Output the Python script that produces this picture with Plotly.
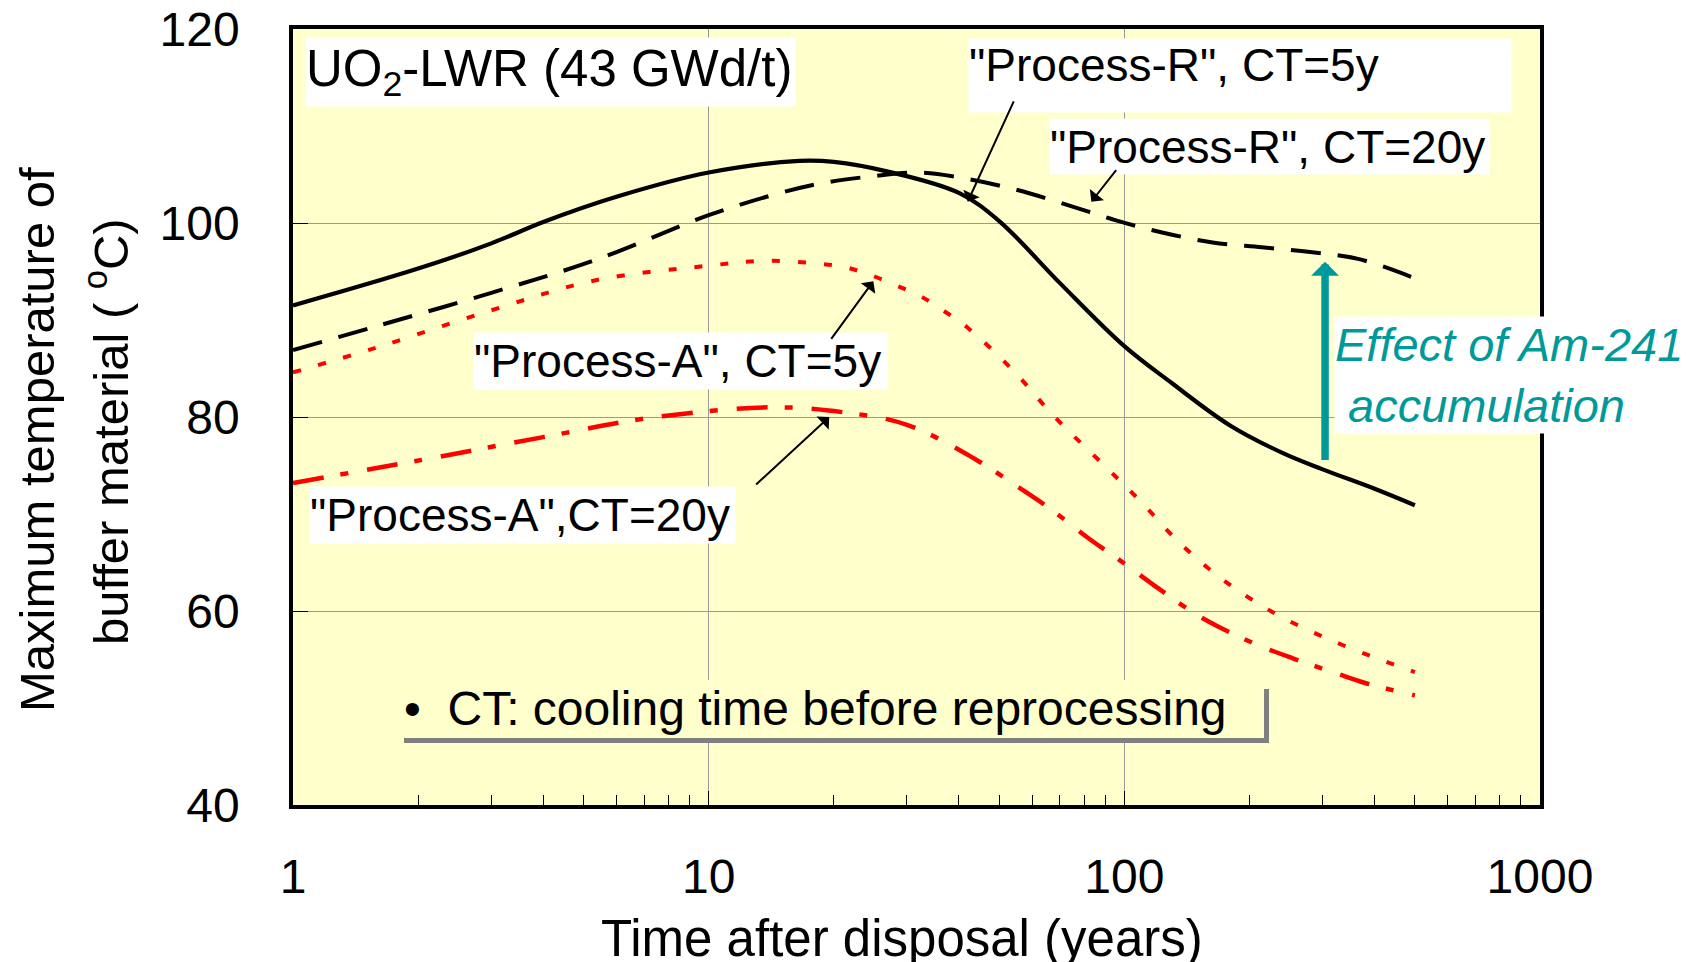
import numpy as np
import plotly.graph_objects as go

# ---------------- data ----------------
r5_x = [1, 2, 3, 4, 6, 10, 16.5, 20, 27, 40, 50, 70, 100, 130, 180, 240, 300, 400, 500]
r5_y = [91.5, 95.3, 97.9, 100.1, 102.7, 105.2, 106.4, 106.3, 105.3, 103.1, 100.2, 93.8, 87.3, 83.5, 79.1, 76.3, 74.6, 72.6, 70.9]

r20_x = [1, 1.6, 3, 5.35, 10, 14.3, 18.7, 24.6, 32.3, 42.4, 55.3, 72.5, 95, 124, 163, 214, 280, 365, 500]
r20_y = [86.9, 89.4, 92.8, 96.2, 100.8, 102.9, 104.1, 104.8, 105.2, 104.5, 103.4, 101.9, 100.3, 99.0, 98.0, 97.5, 97.0, 96.3, 94.3]

a5_x = [1, 1.6, 3, 5.35, 10, 13.6, 18.5, 21.5, 24.6, 28.5, 32.5, 37.2, 42, 54, 68, 90, 110, 136, 173, 227, 306, 412, 500]
a5_y = [84.6, 87.2, 91.0, 94.1, 95.6, 96.1, 95.8, 95.4, 94.6, 93.5, 92.4, 90.8, 89.2, 84.8, 80.0, 74.9, 71.2, 67.0, 63.2, 59.9, 57.2, 55.0, 53.7]

a20_x = [1, 2.18, 3.97, 7.2, 14, 21, 30, 44, 55, 67, 82, 100, 121, 147, 168, 212, 255, 322, 378, 500]
a20_y = [73.2, 75.8, 77.9, 79.9, 81.0, 80.5, 79.2, 75.6, 72.9, 70.4, 67.5, 64.9, 62.3, 59.8, 58.4, 56.4, 55.1, 53.6, 52.6, 51.3]

x_ticks = [1, 10, 100, 1000]
x_tick_text = ["1", "10", "100", "1000"]
y_ticks = [40, 60, 80, 100, 120]

# annotation arrow endpoints (tail -> tip), data units
arrow_r5 = ((54.4, 112.7), (42.0, 102.2))
arrow_r20 = ((96.2, 105.6), (83.3, 102.2))
arrow_a5 = ((19.6, 87.9), (24.9, 94.0))
arrow_a20 = ((12.9, 72.9), (19.5, 80.0))
am_arrow = ((304, 75.4), (304, 96.0))

# ---------------- layout helpers ----------------
W, H = 1704, 962
L, R, T, B = 293, 1540, 29, 805
FONT = "Liberation Sans, Arial, sans-serif"
TEAL = "#009999"


def px(X):
    return (X - L) / (R - L)


def py(Y):
    return (B - Y) / (B - T)


fig = go.Figure()
fig.add_trace(go.Scatter(x=r5_x, y=r5_y, mode="lines", line=dict(color="black", width=4.2, shape="spline", smoothing=1.0)))
fig.add_trace(go.Scatter(x=r20_x, y=r20_y, mode="lines", line=dict(color="black", width=4, dash="30px,17px", shape="spline", smoothing=1.0)))
fig.add_trace(go.Scatter(x=a5_x, y=a5_y, mode="lines", line=dict(color="#FF0000", width=4, dash="8px,18px", shape="spline", smoothing=1.0)))
fig.add_trace(go.Scatter(x=a20_x, y=a20_y, mode="lines", line=dict(color="#FF0000", width=4.5, dash="31px,17px,8px,19px", shape="spline", smoothing=1.0)))

annotations = []


def box(text, x0, y0, x1, y1, valign="middle", color="black", size=46, italic=False, bg="white"):
    annotations.append(dict(
        text=text, xref="paper", yref="paper", x=px(x0), y=py(y0),
        xanchor="left", yanchor="top", width=x1 - x0, height=y1 - y0,
        align="left", valign=valign, showarrow=False, bgcolor=bg, borderpad=0,
        font=dict(family=FONT, size=size, color=color, style="italic" if italic else "normal"),
    ))


box("UO<sub>2</sub>-LWR (43 GWd/t)", 305, 37, 794, 105, size=51)
box("\"Process-R\", CT=5y", 968, 38, 1510, 111, valign="top")
box("\"Process-R\", CT=20y", 1049, 118, 1488, 173)
box("\"Process-A\", CT=5y", 473, 332, 886, 388)
box("\"Process-A\",CT=20y", 309, 486, 734, 542)
box("Effect of Am-241<br>\u00a0accumulation", 1334, 316, 1704, 432, color=TEAL, italic=True, size=47)


def arrow(pair, color="black", width=2, size=1.5):
    (tx, ty), (hx, hy) = pair
    annotations.append(dict(
        x=np.log10(hx), y=hy, ax=np.log10(tx), ay=ty, xref="x", yref="y", axref="x", ayref="y",
        showarrow=True, arrowhead=1, arrowsize=size, arrowwidth=width, arrowcolor=color,
        standoff=0, startstandoff=0, text="",
    ))


arrow(arrow_r5)
arrow(arrow_r20)
arrow(arrow_a5)
arrow(arrow_a20)
arrow(am_arrow, color=TEAL, width=7.5, size=0.62)

# note text
annotations.append(dict(
    text="\u2022\u00a0\u00a0CT: cooling time before reprocessing", xref="paper", yref="paper",
    x=px(402), y=py(708), xanchor="left", yanchor="middle", showarrow=False,
    font=dict(family=FONT, size=48, color="black"),
))

# axis titles
annotations.append(dict(
    text="Time after disposal (years)", xref="paper", yref="paper", x=px(902), y=py(938),
    xanchor="center", yanchor="middle", showarrow=False, font=dict(family=FONT, size=51, color="black"),
))
annotations.append(dict(
    text="Maximum temperature of", xref="paper", yref="paper", x=px(37), y=py(440),
    xanchor="center", yanchor="middle", textangle=-90, showarrow=False,
    font=dict(family=FONT, size=49, color="black"),
))
annotations.append(dict(
    text="buffer material ( <sup>o</sup>C)", xref="paper", yref="paper", x=px(107), y=py(432),
    xanchor="center", yanchor="middle", textangle=-90, showarrow=False,
    font=dict(family=FONT, size=49, color="black"),
))

shapes = [
    # note box shadow and face
    dict(type="rect", xref="paper", yref="paper", x0=px(404), x1=px(1269), y0=py(743), y1=py(689),
         fillcolor="#808080", line=dict(width=0), layer="above"),
    dict(type="rect", xref="paper", yref="paper", x0=px(396), x1=px(1264), y0=py(738), y1=py(680),
         fillcolor="#FFFFCC", line=dict(width=0), layer="above"),
]

fig.update_layout(
    width=W, height=H,
    margin=dict(l=L, r=W - R, t=T, b=H - B, autoexpand=False),
    paper_bgcolor="white", plot_bgcolor="#FFFFCC",
    showlegend=False,
    annotations=annotations, shapes=shapes,
    font=dict(family=FONT, color="black"),
)
fig.update_xaxes(
    type="log", range=[0, 3], tickvals=x_ticks, ticktext=x_tick_text, automargin=False,
    ticks="inside", ticklen=14, tickwidth=1.2, tickcolor="black",
    minor=dict(ticks="inside", ticklen=10, tickwidth=1.2, tickcolor="black", dtick="D1", showgrid=False),
    showgrid=True, gridcolor="#999999", gridwidth=1,
    showline=True, linecolor="black", linewidth=3.5, mirror=True,
    tickfont=dict(family=FONT, size=48, color="black"), ticklabelstandoff=27,
    zeroline=False,
)
fig.update_yaxes(
    range=[40, 120], tickvals=y_ticks, automargin=False,
    ticks="inside", ticklen=15, tickwidth=1.2, tickcolor="black",
    showgrid=True, gridcolor="#999999", gridwidth=1,
    showline=True, linecolor="black", linewidth=3.5, mirror=True,
    tickfont=dict(family=FONT, size=48, color="black"), ticklabelstandoff=40,
    zeroline=False,
)

fig.write_html("out.html")
